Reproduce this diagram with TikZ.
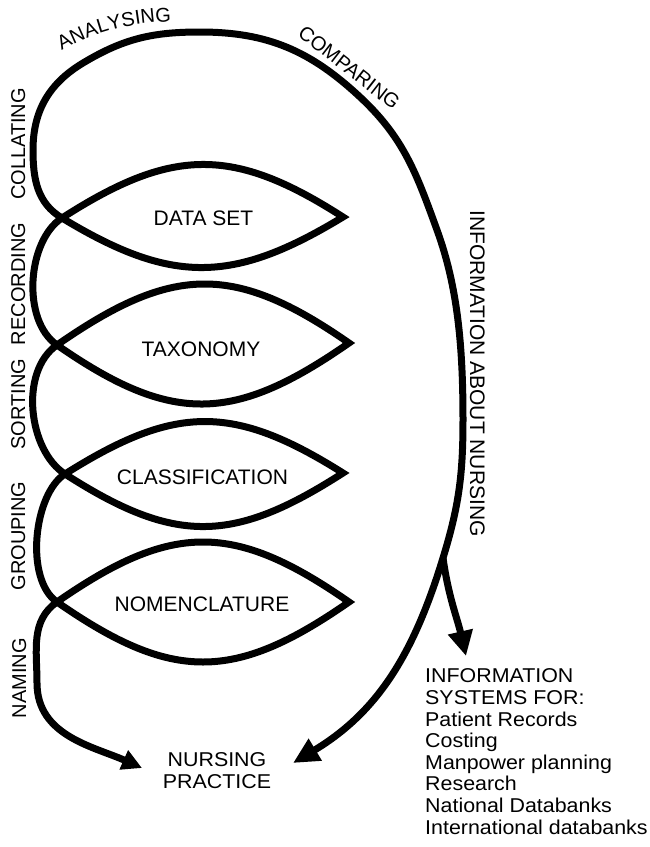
\documentclass[tikz,border=0pt]{standalone}
\usepackage{fontspec}
\setmainfont{Liberation Sans}
\newfontfamily\widefont[FakeStretch=1.07]{Liberation Sans}
\usetikzlibrary{arrows.meta,decorations.text}

\newcommand\lensfont{\fontsize{21}{25}\selectfont}
\newcommand\sidefont{\fontsize{20}{24}\selectfont}
\newcommand\practicefont{\widefont\fontsize{20}{22}\selectfont}
\newcommand\listfont{\widefont\fontsize{20}{21.6}\selectfont}

\begin{document}
\begin{tikzpicture}[x=1pt,y=1pt,
  coil/.style={line width=7pt, line join=miter, line cap=butt},
  lenslabel/.style={font=\lensfont, inner sep=0pt, anchor=base},
  sidelabel/.style={font=\sidefont, inner sep=0pt, anchor=base, rotate=90},
  curvedlabel/.style={decorate, decoration={text along path, text={|\sidefont|#1}, text align=center}}]
\useasboundingbox (0,0) rectangle (650,-847);

% end points of the coil and points on the outer loop
\coordinate (tipR) at (293,-763);
\coordinate (tipL) at (142,-768);
\coordinate (B)    at (443,-558);
\coordinate (tipB) at (466,-656);
\coordinate (O1) at (463,-420);
\coordinate (O2) at (437,-230);
\coordinate (O3) at (360,-97);
\coordinate (O4) at (200,-32);
\coordinate (O5) at (83,-63);
\coordinate (O6) at (33,-150);
\coordinate (Nleft) at (37,-683);
% left and right points of the four lenses
\coordinate (Lds)  at (62,-218);  \coordinate (Rds)  at (343,-217);
\coordinate (Ltax) at (57,-345);  \coordinate (Rtax) at (349,-343);
\coordinate (Lcls) at (65,-474);  \coordinate (Rcls) at (343,-473);
\coordinate (Lnom) at (57,-602);  \coordinate (Rnom) at (349,-602);

% the coil: outer loop, then the four lenses joined by the left-hand loops
\draw[coil, {Triangle[length=26pt,width=24pt]}-{Triangle[length=20pt,width=20pt]}]
  (tipR) .. controls (378.3,-711.8) and (413.9,-653.2) .. (B)
         .. controls (459,-505.8) and (463,-474.6) .. (O1)
         .. controls (463,-345) and (457.5,-286.4) .. (O2)
         .. controls (416.5,-173.6) and (403.9,-137.9) .. (O3)
         .. controls (310.6,-50.9) and (267.6,-32) .. (O4)
         .. controls (152.6,-32) and (123.6,-38.6) .. (O5)
         .. controls (49.3,-83.2) and (33,-110.7) .. (O6)
         .. controls (33,-179) and (37.1,-203.1) .. (Lds)
  .. controls (172,-284.7) and (233,-283.7) .. (Rds)
  .. controls (233,-146.3) and (172,-147.3) .. (Lds)
  .. controls (27.5,-240.2) and (20.9,-319.9) .. (Ltax)
  .. controls (172,-425) and (234,-423) .. (Rtax)
  .. controls (234,-263) and (172,-265) .. (Ltax)
  .. controls (18.8,-371.6) and (28.5,-450.5) .. (Lcls)
  .. controls (175,-544.7) and (233,-543.7) .. (Rcls)
  .. controls (233,-403.7) and (175,-404.7) .. (Lcls)
  .. controls (33.8,-493.7) and (24.3,-579.3) .. (Lnom)
  .. controls (172,-682) and (234,-682) .. (Rnom)
  .. controls (234,-522) and (172,-522) .. (Lnom)
  .. controls (30.2,-620.8) and (37,-650.3) .. (Nleft)
  .. controls (37,-735.9) and (93.7,-746.5) .. (tipL);

% branch towards the information systems
\draw[coil, -{Triangle[length=25pt,width=24pt]}] (B) .. controls (448.5,-597) and (457.1,-617.6) .. (tipB);

% lens labels
\node[lenslabel] (dataset)  at (203.5,-225)   {DATA SET};
\node[lenslabel] (taxonomy) at (201,-356.7)   {TAXONOMY};
\node[lenslabel] (classif)  at (202.5,-484)   {CLASSIFICATION};
\node[lenslabel] (nomencl)  at (202,-611.7)   {NOMENCLATURE};

% activities along the left-hand loops
\node[sidelabel] (collating) at (25,-144) {COLLATING};
\node[sidelabel] (recording) at (25,-284) {RECORDING};
\node[sidelabel] (sorting)   at (25,-404) {SORTING};
\node[sidelabel] (grouping)  at (25,-536) {GROUPING};
\node[sidelabel] (naming)    at (26,-678) {NAMING};

% activities along the top of the outer loop
\path[curvedlabel=ANALYSING] (50,-58) .. controls (90,-30) and (140,-20) .. (185,-22);
\node[font=\sidefont, inner sep=0pt, anchor=base, rotate=-38] (comparing) at (345,-73) {COMPARING};

\node[font=\lensfont, inner sep=0pt, anchor=base, rotate=-90] (about) at (470,-373.5) {INFORMATION ABOUT NURSING};

% outcomes
\node[font=\practicefont, align=center, anchor=north, inner sep=0pt] (practice) at (217,-752.5) {NURSING\\PRACTICE};
\node[font=\listfont, align=left, anchor=north west, inner sep=0pt] (systems) at (425,-668.7)
  {INFORMATION\\SYSTEMS FOR:\\Patient Records\\Costing\\Manpower planning\\Research\\National Databanks\\International databanks};
\end{tikzpicture}
\end{document}
